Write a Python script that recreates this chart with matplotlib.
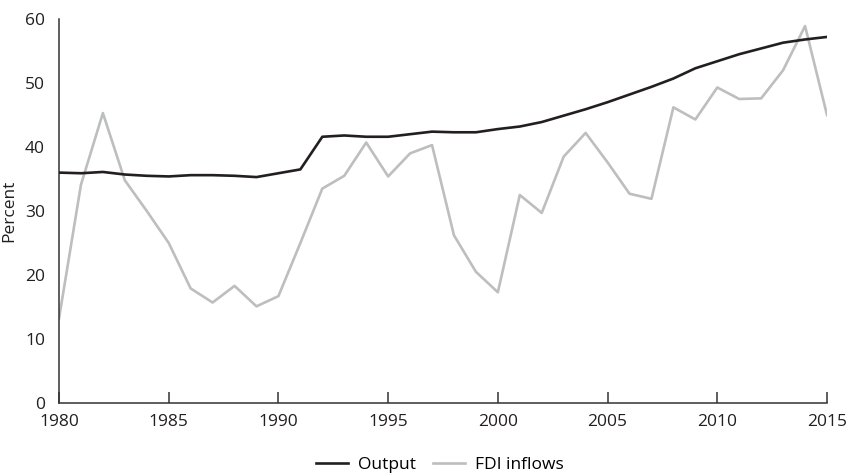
import matplotlib
matplotlib.use("Agg")
import matplotlib.pyplot as plt

plt.rcParams["font.family"] = ["Open Sans", "DejaVu Sans"]

years = list(range(1980, 2016))
output = [36.0, 35.9, 36.1, 35.7, 35.5, 35.4, 35.6, 35.6, 35.5, 35.3,
          35.9, 36.5, 41.6, 41.8, 41.6, 41.6, 42.0, 42.4, 42.3, 42.3,
          42.8, 43.2, 43.9, 44.9, 45.9, 47.0, 48.2, 49.4, 50.7, 52.3,
          53.4, 54.5, 55.4, 56.3, 56.8, 57.2]
fdi = [13.2, 34.1, 45.3, 34.8, 30.0, 25.0, 17.9, 15.7, 18.3, 15.1,
       16.7, 25.0, 33.5, 35.5, 40.7, 35.4, 39.0, 40.3, 26.2, 20.5,
       17.3, 32.5, 29.7, 38.5, 42.2, 37.6, 32.7, 31.9, 46.2, 44.3,
       49.3, 47.5, 47.6, 52.0, 58.9, 45.0]
xticks = [1980, 1985, 1990, 1995, 2000, 2005, 2010, 2015]
yticks = [0, 10, 20, 30, 40, 50, 60]

fig = plt.figure(figsize=(8.48, 4.76), dpi=100)
ax = fig.add_axes([59 / 848, 1 - 403 / 476, (827 - 59) / 848, (403 - 19) / 476])

ax.plot(years, output, color="#231f20", lw=1.9, label="Output", zorder=3)
ax.plot(years, fdi, color="#bdbec0", lw=1.9, label="FDI inflows", zorder=2)

ax.set_xlim(1980, 2015)
ax.set_ylim(0, 60)
ax.set_xticks(xticks)
ax.set_yticks(yticks)
ax.tick_params(axis="x", direction="in", length=8, width=1.1, color="#333333",
               labelsize=12.5, labelcolor="#231f20", pad=8)
ax.tick_params(axis="y", length=0, labelsize=12.5, labelcolor="#231f20", pad=10)
for s in ["top", "right"]:
    ax.spines[s].set_visible(False)
for s in ["left", "bottom"]:
    ax.spines[s].set_color("#333333")
    ax.spines[s].set_linewidth(1.1)
ax.set_ylabel("Percent", fontsize=12.5, color="#231f20", labelpad=6)

ax.legend(loc="center", bbox_to_anchor=(440 / 848, 1 - 465 / 476),
          bbox_transform=fig.transFigure, ncol=2, frameon=False,
          fontsize=12.5, handlelength=1.8, handletextpad=0.6, columnspacing=1.0,
          borderpad=0.2)

fig.savefig("out.png", dpi=100)
